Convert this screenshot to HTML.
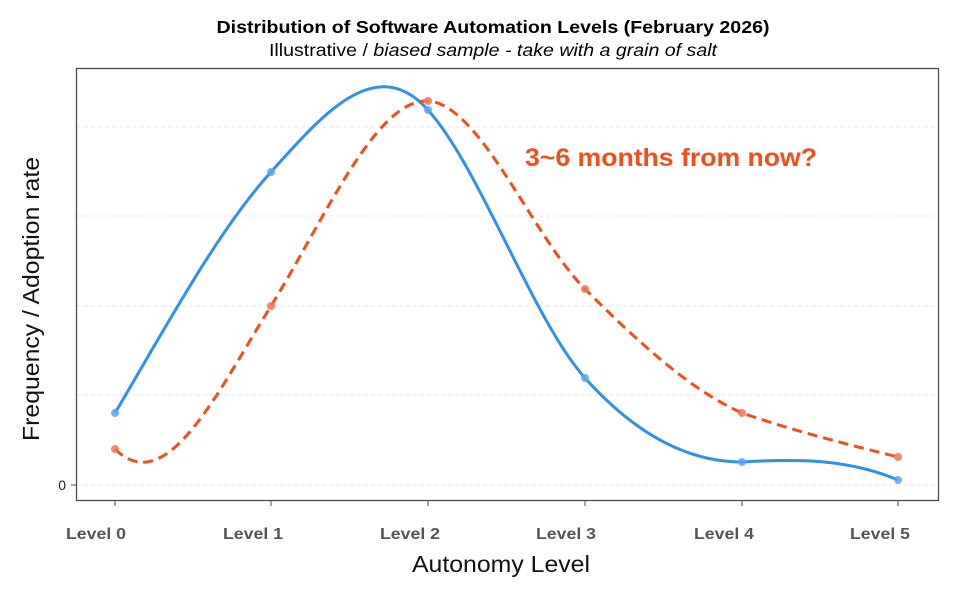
<!DOCTYPE html>
<html><head><meta charset="utf-8"><style>
html,body{margin:0;padding:0;background:#fff;}
svg text{font-family:"Liberation Sans",Arial,sans-serif;}
</style></head><body>
<svg width="962" height="587" viewBox="0 0 962 587" xmlns="http://www.w3.org/2000/svg">
<rect width="962" height="587" fill="#fff"/>
<text x="493" y="33" text-anchor="middle" font-size="17.5" font-weight="bold" fill="#000" textLength="553" lengthAdjust="spacingAndGlyphs">Distribution of Software Automation Levels (February 2026)</text>
<text x="493" y="56" text-anchor="middle" font-size="17.5" fill="#000" textLength="448" lengthAdjust="spacingAndGlyphs">Illustrative / <tspan font-style="italic">biased sample - take with a grain of salt</tspan></text>
<g stroke="#e4e4e4" stroke-width="1" stroke-dasharray="4,3">
<line x1="77" x2="937" y1="127" y2="127"/><line x1="77" x2="937" y1="216" y2="216"/>
<line x1="77" x2="937" y1="306" y2="306"/><line x1="77" x2="937" y1="395" y2="395"/>
<line x1="77" x2="937" y1="485" y2="485"/>
</g>
<rect x="76.5" y="68.5" width="862" height="432" fill="none" stroke="#444" stroke-width="1.2"/>
<g stroke="#444" stroke-width="1">
<line x1="71" x2="76" y1="485" y2="485"/>
<line x1="115" x2="115" y1="501" y2="506"/><line x1="271" x2="271" y1="501" y2="506"/>
<line x1="428" x2="428" y1="501" y2="506"/><line x1="585" x2="585" y1="501" y2="506"/>
<line x1="742" x2="742" y1="501" y2="506"/><line x1="898" x2="898" y1="501" y2="506"/>
</g>
<text x="66" y="490" text-anchor="end" font-size="14" fill="#222">0</text>
<g font-size="16" font-weight="bold" fill="#555" text-anchor="middle">
<text x="96" y="539" textLength="60" lengthAdjust="spacingAndGlyphs">Level 0</text>
<text x="253" y="539" textLength="60" lengthAdjust="spacingAndGlyphs">Level 1</text>
<text x="410" y="539" textLength="60" lengthAdjust="spacingAndGlyphs">Level 2</text>
<text x="566" y="539" textLength="60" lengthAdjust="spacingAndGlyphs">Level 3</text>
<text x="724" y="539" textLength="60" lengthAdjust="spacingAndGlyphs">Level 4</text>
<text x="880" y="539" textLength="60" lengthAdjust="spacingAndGlyphs">Level 5</text>
</g>
<text x="501" y="572" text-anchor="middle" font-size="23" fill="#111" textLength="178" lengthAdjust="spacingAndGlyphs">Autonomy Level</text>
<text transform="translate(39,299) rotate(-90)" text-anchor="middle" font-size="23" fill="#111" textLength="284" lengthAdjust="spacingAndGlyphs">Frequency / Adoption rate</text>
<path d="M115,413 C167,325 219,229 271,172 C323,114 376,52 428,110 C480,168 533,320 585,378 C637,436 690,462 742,462 C794,459 846,458 898,480" fill="none" stroke="#2e90e8" stroke-width="3"/>
<path d="M115,449 C167,501 219,389 271,306 C323,222 376,98 428,101 C480,104 533,237 585,289 C637,341 690,390 742,413 C794,431 846,444 898,457" fill="none" stroke="#f04e1a" stroke-width="3" stroke-dasharray="10,6"/>
<g fill="#5aa6ee" opacity="0.85">
<circle cx="115" cy="413" r="4"/><circle cx="271" cy="172" r="4"/><circle cx="428" cy="110" r="4"/>
<circle cx="585" cy="378" r="4"/><circle cx="742" cy="462" r="4"/><circle cx="898" cy="480" r="4"/>
</g>
<g fill="#f27450" opacity="0.85">
<circle cx="115" cy="449" r="4"/><circle cx="271" cy="306" r="4"/><circle cx="428" cy="101" r="4"/>
<circle cx="585" cy="289" r="4"/><circle cx="742" cy="413" r="4"/><circle cx="898" cy="457" r="4"/>
</g>
<text x="525" y="166" font-size="25" font-weight="bold" fill="#f04e1a" textLength="292" lengthAdjust="spacingAndGlyphs">3~6 months from now?</text>
</svg>
</body></html>
